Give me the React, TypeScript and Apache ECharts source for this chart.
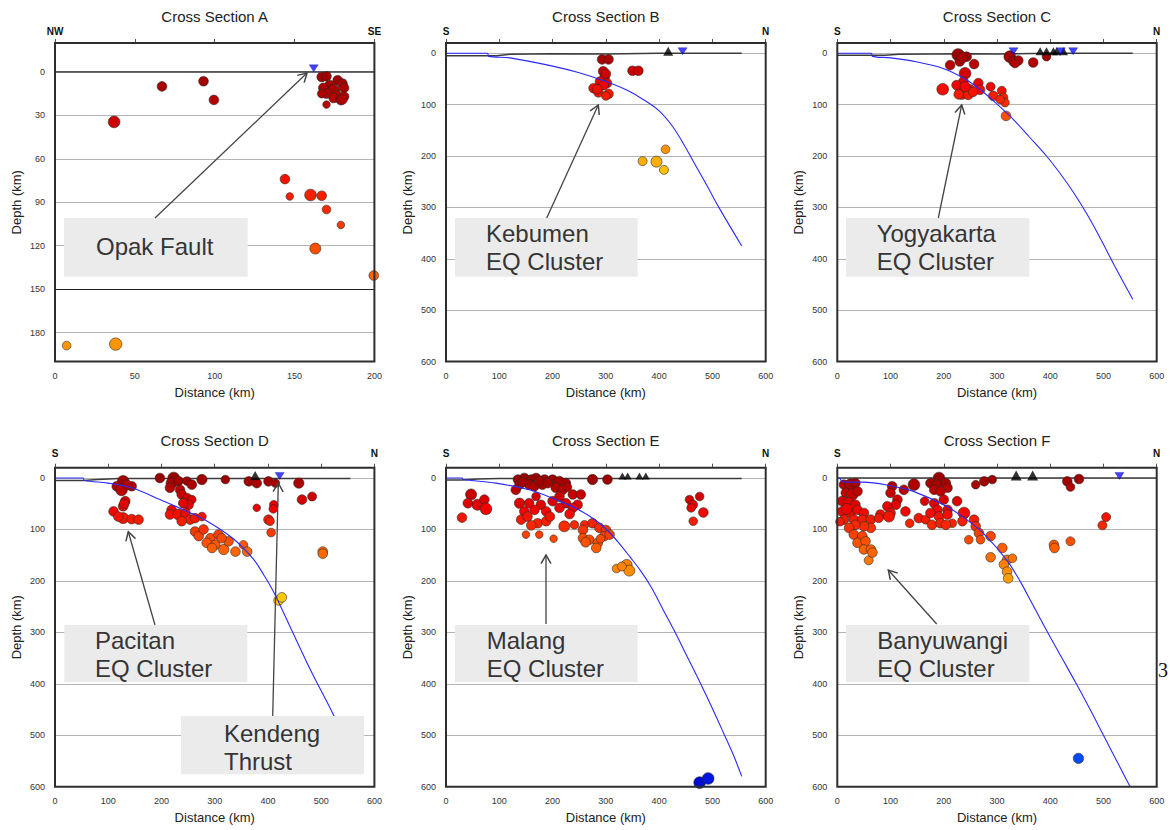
import React, { useEffect, useRef } from "react";
import * as echarts from "echarts";

const FONT = "'Liberation Sans', Arial, Helvetica, sans-serif";

// ---------------- DATA ----------------
// quakes: [distance km, depth km, magnitude]
const quakesA = [
  [67, 10, 4.6], [93, 6.4, 4.6], [99.5, 19.3, 4.6], [37, 34.5, 5.2], [144, 74, 4.6], [147, 86, 4.0],
  [160, 85, 5.2], [167, 85.5, 4.6], [170, 95, 4.3], [179, 105.7, 4.0], [163, 122, 5.0], [199.6, 140.6, 4.6],
  [7.3, 189, 4.3], [38, 188, 5.4],
  [167, 3.5, 4.6], [170, 3, 4.6], [177, 5.7, 4.6], [180, 8, 4.6], [172, 9, 4.6], [168, 11, 4.6],
  [174.5, 12.6, 5.2], [181, 11, 4.6], [170, 15, 4.6], [176.5, 16, 4.6], [181, 17, 4.6], [174.5, 18, 4.6],
  [179, 19.5, 4.6], [170, 22.5, 4.0], [167, 15, 4.3], [180, 19, 4.6],
];
const quakesB = [
  [293, 12, 4.6], [305, 12, 4.6], [295, 35, 4.6], [298, 45, 4.6], [289, 55, 4.6], [302, 58, 4.6],
  [277, 68, 4.6], [286, 76, 4.6], [305, 79, 4.6], [300, 83, 4.3], [296, 62, 4.6], [300, 40, 4.6],
  [284, 70, 4.6], [350, 34, 4.6], [361, 34, 4.6],
  [412, 187, 4.3], [369, 210, 4.4], [395, 211, 5.0], [409, 227, 4.4],
];
const quakesC = [
  [227, 3, 5.4], [243, 6.6, 4.6], [230, 16, 4.6], [235, 8, 5.0], [212, 23, 4.6], [257, 21, 4.6],
  [324, 6.6, 5.2], [331, 16, 4.6], [340, 14, 4.6], [334, 20, 4.3], [368, 18, 4.6], [393, 6.6, 4.3],
  [240, 39, 5.2], [237, 55, 4.6], [198, 70, 5.2], [234, 77, 5.6], [249, 71, 4.8], [265, 58, 4.6],
  [268, 71, 4.6], [224, 62, 4.6], [246, 81, 4.6], [228, 80, 4.6], [288, 65, 4.4], [293, 83, 4.6],
  [309, 73, 4.4], [312, 86, 4.4], [315, 96, 4.3], [306, 90, 4.3], [317, 122, 4.6], [255, 75, 4.6],
  [240, 65, 4.8],
];
const quakesD = [
  [128, 6.5, 5.2], [116, 16, 4.6], [125, 23, 5.2], [144, 16, 4.6], [135, 13, 4.6], [132, 45, 4.6],
  [128, 55, 4.6], [110, 65, 4.6], [128, 78, 5.0], [144, 80, 4.6], [157, 81, 4.6], [119, 75, 4.6],
  [130, 50, 4.6],
  [197, 0, 4.6], [223, 0, 5.2], [219, 10, 5.0], [232, 6, 4.6], [248, 6, 4.3], [257, 13, 4.6],
  [276, 3, 4.8], [216, 19, 4.6], [235, 23, 4.6], [238, 32, 4.6], [248, 39, 4.6], [257, 42, 4.3],
  [251, 52, 4.6], [241, 49, 4.6], [219, 62, 4.6], [216, 71, 4.6], [232, 71, 5.0], [245, 68, 4.6],
  [254, 81, 4.6], [263, 78, 4.6], [276, 75, 4.3], [238, 84, 4.6], [263, 104, 4.6], [270, 113, 4.6],
  [279, 100, 4.6], [292, 117, 4.6], [307, 110, 4.6], [285, 126, 4.6], [301, 130, 4.6], [317, 139, 4.8],
  [326, 123, 4.6], [339, 143, 4.6], [354, 130, 4.3], [361, 143, 4.6], [313, 117, 4.6], [295, 136, 4.6],
  [320, 3, 4.3], [364, 6.5, 4.6], [379, 10, 4.6], [401, 6.5, 4.6], [414, 10, 4.3], [458, 10, 4.8],
  [464, 42, 4.6], [483, 36, 4.4], [379, 58, 4.0], [411, 52, 4.3], [410, 60, 4.3], [401, 81, 4.6],
  [404, 84, 4.3], [406, 106, 4.3], [503, 143, 4.6], [503, 147, 4.6], [420, 238, 4.6], [426, 232, 4.6],
];
const quakesE = [
  [47, 32, 5.0], [59, 52, 5.0], [72, 42, 4.6], [75, 60, 5.2], [41, 49, 4.6], [30, 77, 4.6],
  [135, 3, 4.6], [147, 0, 4.6], [160, 3, 4.6], [169, 0, 4.6], [185, 3, 4.6], [200, 3, 4.6],
  [213, 6, 4.6], [225, 10, 4.6], [138, 13, 4.6], [156, 13, 4.6], [181, 13, 4.6], [206, 19, 4.6],
  [219, 23, 4.6], [131, 23, 4.6], [166, 16, 4.6], [191, 10, 4.6], [144, 8, 4.6], [175, 6, 4.6],
  [228, 18, 4.3], [275, 3, 4.8], [303, 3, 4.6],
  [169, 36, 4.3], [213, 36, 4.6], [238, 32, 4.6], [253, 32, 4.6], [225, 49, 4.6], [247, 52, 4.6],
  [138, 49, 4.8], [156, 49, 4.6], [178, 52, 4.6], [200, 45, 4.6], [147, 65, 4.6], [166, 62, 4.6],
  [188, 65, 4.6], [213, 58, 4.6], [238, 58, 4.6], [141, 81, 4.6], [153, 75, 4.6], [172, 88, 4.6],
  [188, 84, 4.6], [222, 94, 5.0], [241, 91, 4.3], [260, 91, 4.3], [150, 110, 4.0], [175, 110, 4.0],
  [202, 118, 4.0], [160, 92, 4.6], [195, 75, 4.6], [232, 70, 4.6],
  [257, 101, 4.6], [275, 88, 4.6], [288, 97, 4.6], [300, 101, 4.6], [257, 117, 4.6], [269, 120, 4.6],
  [285, 126, 4.6], [282, 136, 4.6], [297, 113, 4.6], [307, 110, 4.6], [262, 125, 4.6], [290, 118, 4.3],
  [320, 176, 4.3], [339, 169, 5.0], [344, 180, 5.0], [330, 172, 4.4],
  [457, 42, 4.3], [476, 36, 4.3], [463, 52, 4.6], [460, 58, 4.3], [483, 67, 4.6], [464, 84, 4.3],
  [476, 592, 5.2], [492, 584, 5.2],
];
const quakesF = [
  [12.5, 13, 4.6], [25, 13, 5.2], [34, 10, 4.6], [16, 29, 4.6], [28, 32, 5.2], [38, 26, 4.6],
  [9, 45, 4.6], [22, 49, 5.2], [34, 52, 4.6], [9, 65, 4.6], [25, 68, 4.6], [38, 62, 4.6],
  [50, 68, 4.6], [12.5, 81, 4.6], [31, 81, 4.6], [47, 81, 4.6], [63, 81, 4.6], [63, 97, 4.6],
  [50, 94, 4.6], [34, 91, 4.6], [22, 97, 4.6], [31, 110, 4.6], [47, 113, 4.6], [38, 126, 4.6],
  [53, 123, 4.6], [50, 139, 4.6], [63, 139, 4.6], [59, 160, 4.4], [66, 145, 4.6], [5, 85, 4.3],
  [18, 60, 5.0],
  [103, 16, 4.6], [125, 23, 4.6], [144, 13, 5.2], [100, 29, 4.6], [113, 42, 4.6], [110, 52, 4.6],
  [94, 55, 4.6], [100, 68, 4.6], [81, 71, 4.6], [78, 78, 4.4], [128, 65, 4.6], [97, 75, 5.0],
  [136, 88, 4.3], [153, 78, 4.6], [166, 81, 4.4], [164, 45, 4.3],
  [175, 10, 4.6], [191, 0, 5.2], [188, 13, 4.6], [204, 10, 4.6], [207, 19, 4.6], [182, 23, 4.6],
  [194, 26, 4.6], [200, 42, 4.6], [182, 49, 4.6], [188, 62, 4.6], [207, 62, 4.6], [225, 45, 4.6],
  [175, 68, 4.6], [191, 75, 4.6], [207, 71, 4.6], [178, 91, 4.6], [194, 88, 4.6], [216, 88, 4.3],
  [204, 91, 4.6], [238, 68, 5.2], [235, 84, 4.6], [257, 81, 4.6], [260, 94, 4.6], [266, 107, 4.6],
  [247, 120, 4.3], [288, 113, 4.6], [269, 120, 4.3], [310, 136, 4.6], [288, 154, 4.6], [319, 159, 4.6],
  [329, 156, 4.3], [313, 168, 4.6], [319, 182, 4.6], [321, 195, 4.6],
  [260, 13, 4.3], [276, 6.5, 4.6], [291, 3, 4.3], [432, 6.5, 4.6], [438, 17.5, 4.3], [454, 2, 4.6],
  [498, 92, 4.4], [505, 76, 4.4], [407, 130, 4.6], [408, 136, 4.6], [438, 123, 4.4],
  [453, 545, 4.8],
];

// slab surface (blue line): [distance, depth]
const slabB = [[0, 0], [78, 0], [80, 6], [120, 9], [200, 25], [250, 38], [300, 55], [340, 72], [370, 90], [400, 112], [425, 142], [445, 175], [465, 212], [490, 258], [511, 298], [555, 375]];
const slabC = [[0, 0], [64, 0], [66, 6], [100, 9], [150, 17], [200, 30], [240, 50], [270, 72], [299, 98], [330, 128], [360, 162], [393, 200], [420, 236], [445, 273], [470, 315], [495, 362], [520, 412], [555, 479]];
const slabD = [[0, 0], [53, 0], [55, 5], [100, 10], [147, 20], [197, 42], [248, 65], [286, 84], [335, 118], [373, 158], [392, 188], [411, 222], [442, 290], [480, 373], [523, 460], [555, 530]];
const slabE = [[0, 0], [30, 0], [32, 3], [94, 10], [156, 23], [206, 42], [250, 62], [282, 83], [305, 104], [325, 127], [345, 153], [365, 180], [385, 212], [407, 255], [429, 298], [453, 348], [477, 398], [500, 448], [521, 496], [540, 540], [555, 580]];
const slabF = [[0, 0], [5, 1], [8, 6], [15, 8], [49, 8], [100, 15], [143, 26], [205, 55], [243, 81], [274, 107], [318, 159], [343, 200], [368, 248], [395, 300], [422, 350], [449, 400], [475, 450], [500, 500], [550, 600]];

// topography / surface line: [distance, depth]
const topoA = [[0, 0], [200, 0]];
const topoB = [[0, 5], [78, 5], [95, 5], [120, 2], [200, 1], [300, 1.5], [400, 0], [555, 0]];
const topoC = [[0, 4], [64, 4], [90, 4], [115, 2], [250, 1], [300, 1.5], [400, 0], [555, 0]];
const topoD = [[0, 5], [53, 5], [80, 3], [120, 1], [555, 1]];
const topoE = [[0, 4], [30, 4], [60, 2], [100, 1], [555, 1]];
const topoF = [[0, 0], [600, 0]];

// volcanoes (black triangles) and stations (blue inverted triangles): [distance, depth]
const volcanoesB = [[417, -4]];
const volcanoesC = [[381, -4], [393, -4], [406, -4], [412, -4], [425, -4]];
const volcanoesD = [[376, -5]];
const volcanoesE = [[331, -4], [341, -4], [363, -4], [375, -4]];
const volcanoesF = [[336, -5], [367, -5]];
const stationsA = [[162, -2.5]];
const stationsB = [[444, -4]];
const stationsC = [[331, -4], [420, -4], [443, -4]];
const stationsD = [[422, -4]];
const stationsF = [[530, -4]];

const titles = ["Cross Section A", "Cross Section B", "Cross Section C", "Cross Section D", "Cross Section E", "Cross Section F"];
const leftDir = ["NW", "S", "S", "S", "S", "S"];
const rightDir = ["SE", "N", "N", "N", "N", "N"];
const distanceMax = [200, 600, 600, 600, 600, 600];
const depthMax = [200, 600, 600, 600, 600, 600];

// depth colour scale stops (0..600 km, every 60 km)
const depthColors = ["#9a0000", "#f00000", "#ff4c00", "#ff8c00", "#ffd000", "#d8e000", "#80d080", "#30b0d0", "#1080ff", "#0050ff", "#0000d0"];

// ---------------- LAYOUT ----------------
const GRIDS = [
  { left: 55, top: 43, width: 319.4, height: 318.5 },
  { left: 446, top: 43, width: 319.7, height: 318.5 },
  { left: 837.3, top: 43, width: 319.4, height: 318.5 },
  { left: 55, top: 467.7, width: 319.4, height: 319 },
  { left: 446, top: 467.7, width: 319.7, height: 319 },
  { left: 837.3, top: 467.7, width: 319.4, height: 319 },
];

const ANNOTATIONS = [
  { box: [64, 218, 183.7, 58.7], text: "Opak Fault", tx: 96, ty: 246, arrow: [155, 218, 307, 73] },
  { box: [455, 218, 182.7, 58.7], text: "Kebumen\nEQ Cluster", tx: 486, ty: 247.5, arrow: [546.7, 218, 598.3, 105] },
  { box: [846, 218, 183.3, 58.7], text: "Yogyakarta\nEQ Cluster", tx: 876.7, ty: 247.5, arrow: [938.3, 218, 961.7, 105] },
  { box: [64.3, 625, 183, 57.3], text: "Pacitan\nEQ Cluster", tx: 95, ty: 654, arrow: [155, 625, 128.3, 531.7] },
  { box: [181, 716, 183, 58.3], text: "Kendeng\nThrust", tx: 224, ty: 747, arrow: [272.7, 716, 278.3, 483] },
  { box: [455, 625, 182.7, 57.3], text: "Malang\nEQ Cluster", tx: 486.7, ty: 654, arrow: [546, 624, 546, 555] },
  { box: [846, 625, 183.3, 57.3], text: "Banyuwangi\nEQ Cluster", tx: 877.3, ty: 654, arrow: [936.7, 624, 888.3, 570] },
];

function arrowGraphics(x1: number, y1: number, x2: number, y2: number) {
  const dx = x2 - x1, dy = y2 - y1;
  const L = Math.hypot(dx, dy);
  const ux = dx / L, uy = dy / L;
  const h = 10, a = Math.PI / 6;
  const wing = (s: number) => [
    x2 - h * (ux * Math.cos(s * a) - uy * Math.sin(s * a)),
    y2 - h * (uy * Math.cos(s * a) + ux * Math.sin(s * a)),
  ];
  return [
    { type: "line", z: 110, shape: { x1, y1, x2, y2 }, style: { stroke: "#444", lineWidth: 1.3 } },
    { type: "polyline", z: 110, shape: { points: [wing(1), [x2, y2], wing(-1)] }, style: { stroke: "#444", lineWidth: 1.5, fill: null } },
  ];
}

function buildOption() {
  const quakes = [quakesA, quakesB, quakesC, quakesD, quakesE, quakesF];
  const slabs = [null, slabB, slabC, slabD, slabE, slabF];
  const topos = [topoA, topoB, topoC, topoD, topoE, topoF];
  const volcanoes = [[], volcanoesB, volcanoesC, volcanoesD, volcanoesE, volcanoesF];
  const stations = [stationsA, stationsB, stationsC, stationsD, [], stationsF];
  const volcanoSize = [0, 9, 8, 9, 7, 10];

  const grid: any[] = [];
  const xAxis: any[] = [];
  const yAxis: any[] = [];
  const series: any[] = [];
  const quakeIdx: number[] = [];
  const graphic: any[] = [];

  GRIDS.forEach((g, i) => {
    grid.push({ ...g, show: false, containLabel: false });
    const xMax = distanceMax[i];
    const xInt = i === 0 ? 50 : 100;
    xAxis.push({
      type: "value", gridIndex: i, min: 0, max: xMax, interval: xInt, position: "bottom",
      name: "Distance (km)", nameLocation: "middle", nameGap: 24,
      nameTextStyle: { fontSize: 13, color: "#222", fontFamily: FONT },
      axisLine: { show: false }, axisTick: { show: false }, splitLine: { show: false },
      axisLabel: { fontSize: 9, color: "#333", margin: 10, fontFamily: FONT },
    });
    xAxis.push({
      type: "value", gridIndex: i, min: 0, max: xMax, interval: xInt, position: "top",
      axisLine: { show: false }, axisTick: { show: true, length: 4, lineStyle: { color: "#555", width: 1 } },
      splitLine: { show: false }, axisLabel: { show: false },
    });
    yAxis.push({
      type: "value", gridIndex: i, min: -20, max: depthMax[i], inverse: true,
      splitNumber: i === 0 ? 7 : 6,
      name: "Depth (km)", nameLocation: "middle", nameGap: 32,
      nameTextStyle: { fontSize: 13, color: "#222", fontFamily: FONT },
      axisLine: { show: false }, axisTick: { show: false },
      splitLine: { show: true, lineStyle: { color: "#b4b4b4", width: 1 } },
      axisLabel: { fontSize: 9, color: "#333", margin: 10, fontFamily: FONT, showMinLabel: false, showMaxLabel: i !== 0 },
    });

    const xi = i * 2;
    series.push({
      type: "line", xAxisIndex: xi, yAxisIndex: i, data: topos[i], symbol: "none", z: 2,
      lineStyle: { color: i === 0 ? "#222" : "#3c3c3c", width: i === 0 ? 1.2 : 1.5 },
      silent: true,
      markLine: i === 0 ? {
        silent: true, symbol: "none", label: { show: false },
        lineStyle: { color: "#222", width: 1.2, type: "solid" },
        data: [{ yAxis: 150 }],
      } : undefined,
    });
    quakeIdx.push(series.length);
    series.push({
      type: "scatter", xAxisIndex: xi, yAxisIndex: i, data: quakes[i], z: 3,
      symbolSize: (v: number[]) => 7.6 + (v[2] - 4) * 3.4,
      itemStyle: { borderColor: "#2a2a2a", borderWidth: 0.6, opacity: 1 },
      silent: true,
    });
    if (slabs[i]) {
      series.push({
        type: "line", xAxisIndex: xi, yAxisIndex: i, data: slabs[i], symbol: "none", z: 4,
        smooth: 0.35,
        lineStyle: { color: "#2a2aff", width: 1.1 }, silent: true,
      });
    }
    if (volcanoes[i].length) {
      series.push({
        type: "scatter", xAxisIndex: xi, yAxisIndex: i, data: volcanoes[i], z: 5,
        symbol: "triangle", symbolSize: [volcanoSize[i] + 1, volcanoSize[i]],
        itemStyle: { color: "#000" }, silent: true,
      });
    }
    if (stations[i].length) {
      series.push({
        type: "scatter", xAxisIndex: xi, yAxisIndex: i, data: stations[i], z: 5,
        symbol: "triangle", symbolRotate: 180, symbolSize: [9, 7],
        itemStyle: { color: "#1414ff", borderColor: "#000066", borderWidth: 0.4 }, silent: true,
      });
    }

    graphic.push({
      type: "rect", z: 90, silent: true,
      shape: { x: g.left, y: g.top, width: g.width, height: g.height },
      style: { fill: null, stroke: "#2e2e2e", lineWidth: 2 },
    });
    const row = i < 3 ? 0 : 1;
    const titleY = row === 0 ? 16.5 : 440.5;
    const dirY = row === 0 ? 31 : 453.5;
    graphic.push({
      type: "text", z: 90, x: g.left + g.width / 2, y: titleY,
      style: { text: titles[i], fill: "#222", fontSize: 15, fontFamily: FONT, align: "center", verticalAlign: "middle" },
    });
    graphic.push({
      type: "text", z: 90, x: g.left, y: dirY,
      style: { text: leftDir[i], fill: "#111", fontSize: 10, fontWeight: "bold", fontFamily: FONT, align: "center", verticalAlign: "middle" },
    });
    graphic.push({
      type: "text", z: 90, x: g.left + g.width, y: dirY,
      style: { text: rightDir[i], fill: "#111", fontSize: 10, fontWeight: "bold", fontFamily: FONT, align: "center", verticalAlign: "middle" },
    });
  });

  ANNOTATIONS.forEach((a) => {
    graphic.push({
      type: "rect", z: 100, silent: true,
      shape: { x: a.box[0], y: a.box[1], width: a.box[2], height: a.box[3] },
      style: { fill: "#ebebeb", stroke: null },
    });
    graphic.push({
      type: "text", z: 105, x: a.tx, y: a.ty,
      style: { text: a.text, fill: "#353535", fontSize: 24, lineHeight: 28, fontFamily: FONT, align: "left", verticalAlign: "middle" },
    });
    arrowGraphics(a.arrow[0], a.arrow[1], a.arrow[2], a.arrow[3]).forEach((e) => graphic.push(e));
  });

  // stray glyph at the right edge of the figure
  graphic.push({
    type: "text", z: 105, x: 1158, y: 670,
    style: { text: "3", fill: "#111", fontSize: 20, fontFamily: "'Liberation Serif', 'DejaVu Serif', serif", align: "left", verticalAlign: "middle" },
  });

  return {
    animation: false,
    backgroundColor: "#ffffff",
    grid, xAxis, yAxis, series, graphic,
    visualMap: {
      type: "continuous", show: false, min: 0, max: 600, dimension: 1,
      seriesIndex: quakeIdx, inRange: { color: depthColors },
    },
  };
}

export default function App() {
  const ref = useRef<HTMLDivElement>(null);
  useEffect(() => {
    if (!ref.current) return;
    const chart = echarts.init(ref.current, null, { renderer: "svg" });
    chart.setOption(buildOption() as any);
    return () => chart.dispose();
  }, []);
  return (
    <div
      ref={ref}
      style={{ position: "fixed", left: 0, top: 0, width: 1170, height: 830, background: "#fff" }}
    />
  );
}
